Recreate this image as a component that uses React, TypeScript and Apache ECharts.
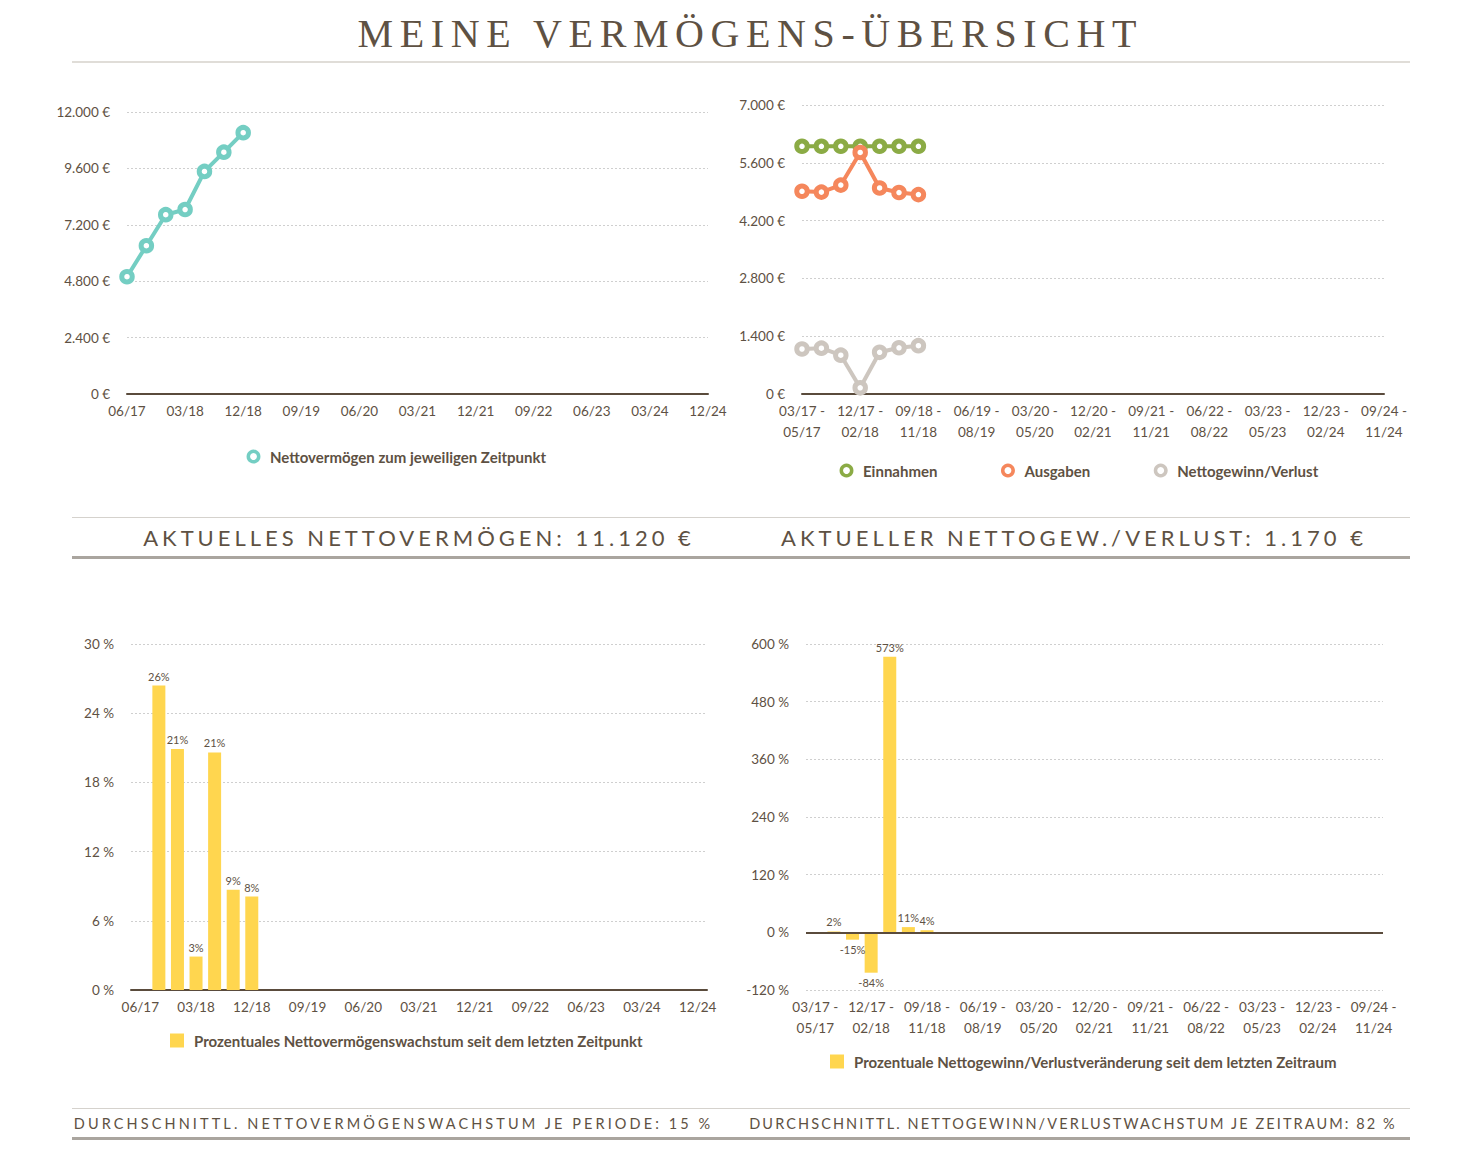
import React, { useEffect, useRef } from 'react';
import * as echarts from 'echarts';

// ---------- DATA ----------
const dateLabels = [
  '06/17', '09/17', '12/17', '03/18', '06/18', '09/18', '12/18', '03/19', '06/19', '09/19', '12/19',
  '03/20', '06/20', '09/20', '12/20', '03/21', '06/21', '09/21', '12/21', '03/22', '06/22', '09/22',
  '12/22', '03/23', '06/23', '09/23', '12/23', '03/24', '06/24', '09/24', '12/24',
];
const periodLabels = [
  '03/17 - 05/17', '06/17 - 08/17', '09/17 - 11/17', '12/17 - 02/18', '03/18 - 05/18', '06/18 - 08/18',
  '09/18 - 11/18', '12/18 - 02/19', '03/19 - 05/19', '06/19 - 08/19', '09/19 - 11/19', '12/19 - 02/20',
  '03/20 - 05/20', '06/20 - 08/20', '09/20 - 11/20', '12/20 - 02/21', '03/21 - 05/21', '06/21 - 08/21',
  '09/21 - 11/21', '12/21 - 02/22', '03/22 - 05/22', '06/22 - 08/22', '09/22 - 11/22', '12/22 - 02/23',
  '03/23 - 05/23', '06/23 - 08/23', '09/23 - 11/23', '12/23 - 02/24', '03/24 - 05/24', '06/24 - 08/24',
  '09/24 - 11/24',
];
const netWorth = [4990, 6310, 7630, 7850, 9470, 10290, 11120];
const income = [6000, 6000, 6000, 6000, 6000, 6000, 6000];
const expenses = [4910, 4890, 5060, 5850, 4990, 4880, 4830];
const netResult = [1090, 1110, 940, 150, 1010, 1120, 1170];
const growthPct = [null, 26.4, 20.9, 2.9, 20.6, 8.7, 8.1];
const netChangePct = [null, 1.8, -15.3, -84.0, 573.3, 10.9, 4.4];

const seriesNames = {
  netWorth: 'Nettovermögen zum jeweiligen Zeitpunkt',
  income: 'Einnahmen',
  expenses: 'Ausgaben',
  net: 'Nettogewinn/Verlust',
  growth: 'Prozentuales Nettovermögenswachstum seit dem letzten Zeitpunkt',
  netChange: 'Prozentuale Nettogewinn/Verlustveränderung seit dem letzten Zeitraum',
};

const headings = {
  title: 'MEINE VERMÖGENS-ÜBERSICHT',
  netWorthNow: 'AKTUELLES NETTOVERMÖGEN: 11.120 €',
  netNow: 'AKTUELLER NETTOGEW./VERLUST: 1.170 €',
  avgGrowth: 'DURCHSCHNITTL. NETTOVERMÖGENSWACHSTUM JE PERIODE: 15 %',
  avgNet: 'DURCHSCHNITTL. NETTOGEWINN/VERLUSTWACHSTUM JE ZEITRAUM: 82 %',
};

// ---------- STYLE ----------
const TEXT = '#5e5143';
const AXIS = '#5a4b3c';
const FONT = 'Lato, "Noto Sans", sans-serif';
const C_TEAL = '#74cec3';
const C_GREEN = '#8bab45';
const C_ORANGE = '#f5875c';
const C_GREY = '#cdc6bf';
const C_YELLOW = '#ffd64f';

const eur = (v: number) => String(Math.round(v)).replace(/\B(?=(\d{3})+(?!\d))/g, '.') + ' €';
const pct = (v: number) => v + ' %';

function yAxis(gridIndex: number, min: number, max: number, interval: number, fmt: (v: number) => string) {
  return {
    type: 'value',
    gridIndex,
    min,
    max,
    interval,
    axisLine: { show: false },
    axisTick: { show: false },
    axisLabel: { color: TEXT, fontFamily: FONT, fontSize: 13.5, margin: 17, formatter: fmt },
    splitLine: { lineStyle: { color: '#cfcfcf', type: [2, 2], width: 1 } },
  };
}

function xAxis(gridIndex: number, data: string[], boundaryGap: boolean, twoLine: boolean, showLine = true) {
  return {
    type: 'category',
    gridIndex,
    data,
    boundaryGap,
    axisLine: { show: showLine, onZero: false, lineStyle: { color: AXIS, width: 2 } },
    axisTick: { show: false },
    axisLabel: {
      color: TEXT,
      fontFamily: FONT,
      fontSize: 13.5,
      margin: 6,
      interval: 2,
      lineHeight: 21,
      formatter: twoLine ? (v: string) => v.replace(' - ', ' -\n') : undefined,
    },
    splitLine: { show: false },
  };
}

function lineSeries(name: string, data: number[], color: string, idx: number) {
  return {
    type: 'line',
    name,
    data,
    xAxisIndex: idx,
    yAxisIndex: idx,
    color,
    symbol: 'circle',
    symbolSize: 10.5,
    lineStyle: { width: 4, color },
    itemStyle: { color: '#ffffff', borderColor: color, borderWidth: 5 },
    z: 3,
  };
}

function barLabel(v: number | null) {
  if (v === null) return null;
  return {
    value: v,
    label: { position: v < 0 ? 'bottom' : 'top' },
  };
}

const legendText = { color: TEXT, fontFamily: FONT, fontSize: 15, fontWeight: 'bold', padding: [0, 0, 0, 5] };

const option = {
  animation: false,
  backgroundColor: '#ffffff',
  grid: [
    { left: 127, top: 112, width: 581, height: 282, containLabel: false, outerBoundsMode: 'none' },
    { left: 802, top: 105, width: 582, height: 289, containLabel: false, outerBoundsMode: 'none' },
    { left: 131, top: 644, width: 576, height: 346, containLabel: false, outerBoundsMode: 'none' },
    { left: 806, top: 644, width: 577, height: 346, containLabel: false, outerBoundsMode: 'none' },
  ],
  xAxis: [
    xAxis(0, dateLabels, false, false),
    xAxis(1, periodLabels, false, true),
    xAxis(2, dateLabels, true, false),
    xAxis(3, periodLabels, true, true, false),
  ],
  yAxis: [
    yAxis(0, 0, 12000, 2400, eur),
    yAxis(1, 0, 7000, 1400, eur),
    yAxis(2, 0, 30, 6, pct),
    yAxis(3, -120, 600, 120, pct),
  ],
  legend: [
    {
      left: 246, top: 449, padding: 0, itemWidth: 13, itemHeight: 13,
      itemStyle: { borderWidth: 3.5 },
      data: [{ name: seriesNames.netWorth }],
      textStyle: legendText,
    },
    {
      left: 839, top: 463, padding: 0, itemWidth: 13, itemHeight: 13, itemGap: 63,
      itemStyle: { borderWidth: 3.5 },
      data: [{ name: seriesNames.income }, { name: seriesNames.expenses }, { name: seriesNames.net }],
      textStyle: legendText,
    },
    {
      left: 170, top: 1033, padding: 0, itemWidth: 14, itemHeight: 14,
      data: [{ name: seriesNames.growth, icon: 'rect' }],
      textStyle: legendText,
    },
    {
      left: 830, top: 1054, padding: 0, itemWidth: 14, itemHeight: 14,
      data: [{ name: seriesNames.netChange, icon: 'rect' }],
      textStyle: legendText,
    },
  ],
  series: [
    lineSeries(seriesNames.netWorth, netWorth, C_TEAL, 0),
    lineSeries(seriesNames.income, income, C_GREEN, 1),
    lineSeries(seriesNames.expenses, expenses, C_ORANGE, 1),
    lineSeries(seriesNames.net, netResult, C_GREY, 1),
    {
      type: 'bar',
      name: seriesNames.growth,
      xAxisIndex: 2,
      yAxisIndex: 2,
      data: growthPct,
      color: C_YELLOW,
      barWidth: 13,
      itemStyle: { color: C_YELLOW },
      label: {
        show: true, position: 'top', distance: 4, color: TEXT, fontFamily: FONT, fontSize: 11,
        formatter: (p: any) => Math.round(p.value) + '%',
      },
    },
    {
      type: 'bar',
      name: seriesNames.netChange,
      xAxisIndex: 3,
      yAxisIndex: 3,
      data: netChangePct.map(barLabel),
      color: C_YELLOW,
      barWidth: 13,
      itemStyle: { color: C_YELLOW },
      label: {
        show: true, position: 'top', distance: 4, color: TEXT, fontFamily: FONT, fontSize: 11,
        formatter: (p: any) => Math.round(p.value) + '%',
      },
      markLine: {
        silent: true,
        symbol: 'none',
        label: { show: false },
        lineStyle: { color: AXIS, width: 2, type: 'solid' },
        data: [{ yAxis: 0 }],
      },
    },
  ],
};

// ---------- LAYOUT HELPERS ----------
function CenterText(props: { cx: number; cy: number; text: string; size: number; ls: number; family: string; weight?: number; lh: number }) {
  const { cx, cy, text, size, ls, family, weight, lh } = props;
  return (
    <div
      style={{
        position: 'absolute',
        left: cx - 600,
        width: 1200,
        top: cy - lh / 2,
        height: lh,
        lineHeight: lh + 'px',
        textAlign: 'center',
        whiteSpace: 'nowrap',
        fontFamily: family,
        fontSize: size,
        fontWeight: weight ?? 400,
        letterSpacing: ls,
        paddingLeft: ls,
        boxSizing: 'border-box',
        color: TEXT,
      }}
    >
      {text}
    </div>
  );
}

function HLine(props: { y: number; h: number; color: string }) {
  return (
    <div
      style={{
        position: 'absolute',
        left: 72,
        width: 1338,
        top: props.y - props.h / 2,
        height: props.h,
        background: props.color,
      }}
    />
  );
}

export default function App() {
  const ref = useRef<HTMLDivElement>(null);
  useEffect(() => {
    const chart = echarts.init(ref.current as HTMLDivElement, null, { renderer: 'svg' });
    chart.setOption(option as any);
    return () => chart.dispose();
  }, []);
  const sans = 'Lato, "Open Sans", sans-serif';
  return (
    <div style={{ position: 'absolute', left: 0, top: 0, width: 1458, height: 1152, overflow: 'hidden', background: '#fff' }}>
      <div ref={ref} style={{ position: 'absolute', left: 0, top: 0, width: 1458, height: 1152 }} />
      <CenterText cx={747} cy={34} text={headings.title} size={40} ls={6.6} family={'"Liberation Serif", "DejaVu Serif", serif'} lh={46} />
      <HLine y={62} h={2} color="#e0ddd8" />
      <HLine y={517} h={1} color="#d5d2cd" />
      <CenterText cx={417} cy={538} text={headings.netWorthNow} size={22} ls={4} family={sans} weight={400} lh={28} />
      <CenterText cx={1072} cy={538} text={headings.netNow} size={22} ls={4} family={sans} weight={400} lh={28} />
      <HLine y={557} h={3} color="#aaa59f" />
      <HLine y={1108} h={1} color="#d5d2cd" />
      <CenterText cx={392} cy={1124} text={headings.avgGrowth} size={14.5} ls={3.1} family={sans} weight={400} lh={20} />
      <CenterText cx={1072} cy={1124} text={headings.avgNet} size={14.5} ls={2.1} family={sans} weight={400} lh={20} />
      <HLine y={1138} h={3} color="#aaa59f" />
    </div>
  );
}
